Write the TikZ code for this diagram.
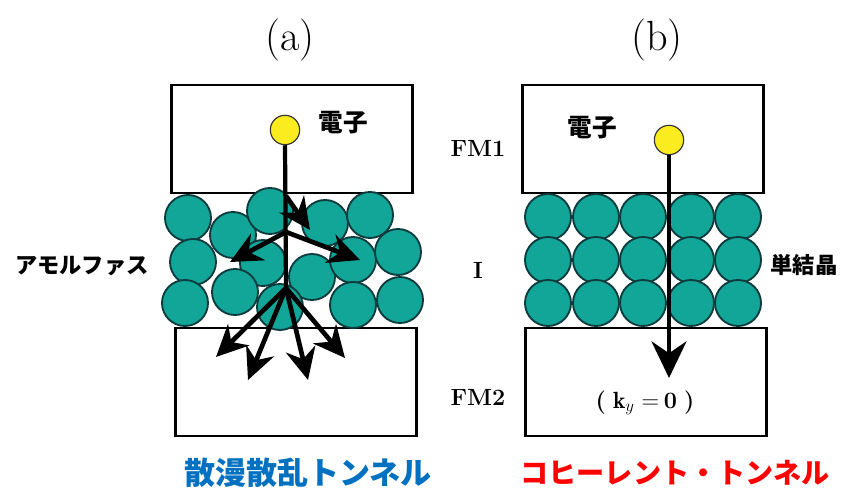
\documentclass[tikz,border=0pt]{standalone}
\usepackage{fontspec}
\newfontfamily\jp{Noto Sans CJK JP}
\usetikzlibrary{arrows.meta}

\definecolor{atomfill}{RGB}{18,166,152}
\definecolor{atomedge}{RGB}{14,60,62}
\definecolor{elecfill}{RGB}{250,236,30}
\definecolor{diffblue}{RGB}{0,112,192}
\definecolor{cohred}{RGB}{255,0,0}

\begin{document}
\begin{tikzpicture}[x=0.03cm, y=-0.03cm,
    layer/.style={draw, line width=2.4pt, minimum width=7.22cm, minimum height=3.24cm},
    atom/.style={circle, draw=atomedge, line width=1.6pt, fill=atomfill,
                 minimum size=1.38cm, inner sep=0pt},
    elec/.style={circle, draw=black!80, line width=1pt, fill=elecfill,
                 minimum size=0.88cm, inner sep=0pt},
    scat/.style={line width=4pt, -{Stealth[length=0.95cm, width=0.9cm]}},
    lbl/.style={font=\bfseries\fontsize{20}{20}\selectfont},
]
\useasboundingbox (0,0) rectangle (841,489);

% panel titles
\node[font=\fontsize{36}{36}\selectfont] (ta) at (290,40) {(a)};
\node[font=\fontsize{36}{36}\selectfont] (tb) at (657,40) {(b)};

% electrodes
\node[layer] (fm1a) at (292,139) {};
\node[layer] (fm2a) at (296,382) {};
\node[layer] (fm1b) at (643,139) {};
\node[layer] (fm2b) at (646,382) {};

% layer names in the middle
\node[lbl] (nfm1) at (478,148) {FM1};
\node[lbl] (nins) at (478,270) {I};
\node[lbl] (nfm2) at (478,397) {FM2};

% amorphous barrier
\foreach \p [count=\i] in {(188,218),(233,235),(270,211),(325,223),(370,215),
                           (193,262),(263,263),(312,277),(353,260),(398,252),
                           (185,303),(235,292),(280,307),(353,305),(400,300)}
  \node[atom] (a\i) at \p {};

% crystalline barrier
\foreach \cx [count=\i] in {548,596,643,691,738}
  \foreach \cy [count=\j] in {217,260,303}
    \node[atom] (c\i\j) at (\cx,\cy) {};

% electrons
\node[elec] (ea) at (285,130) {};
\node[elec] (eb) at (669,140) {};
\node[font=\jp\bfseries\fontsize{21}{21}\selectfont] (tea) at (343,123) {電子};
\node[font=\jp\bfseries\fontsize{21}{21}\selectfont] (teb) at (592,128) {電子};

% diffuse scattering paths
\coordinate (top) at (286,196);
\coordinate (mid) at (286,232);
\coordinate (fan) at (286,288);
\draw[line width=3.6pt] (ea.south) -- (fan);
\draw[scat] (top) -- (310,230);
\draw[scat] (mid) -- (230,262);
\draw[scat] (mid) -- (360,260);
\draw[scat] (fan) -- (216,357);
\draw[scat] (fan) -- (248,380);
\draw[scat] (fan) -- (308,380);
\draw[scat] (fan) -- (345,358);

% coherent path
\coordinate (endb) at (669,378);
\draw[line width=2.8pt, -{Stealth[length=1.1cm, width=1.05cm]}] (eb.south) -- (endb);

% side labels
\node[font=\jp\bfseries\fontsize{19}{19}\selectfont] (tam) at (82,266) {アモルファス};
\node[font=\jp\bfseries\fontsize{19}{19}\selectfont] (tsc) at (804,265) {単結晶};
\node[lbl] (tk) at (645,403) {(\hspace{0.3em}$\mathbf{k}_{y}$\hspace{0.3em}$=$\hspace{0.2em}0\hspace{0.3em})};

% captions
\node[font=\jp\bfseries\fontsize{26.5}{26.5}\selectfont, text=diffblue] (cap1) at (308,473) {散漫散乱トンネル};
\node[font=\jp\bfseries\fontsize{24}{24}\selectfont, text=cohred] (cap2) at (675,473) {コヒーレント・トンネル};
\end{tikzpicture}
\end{document}
